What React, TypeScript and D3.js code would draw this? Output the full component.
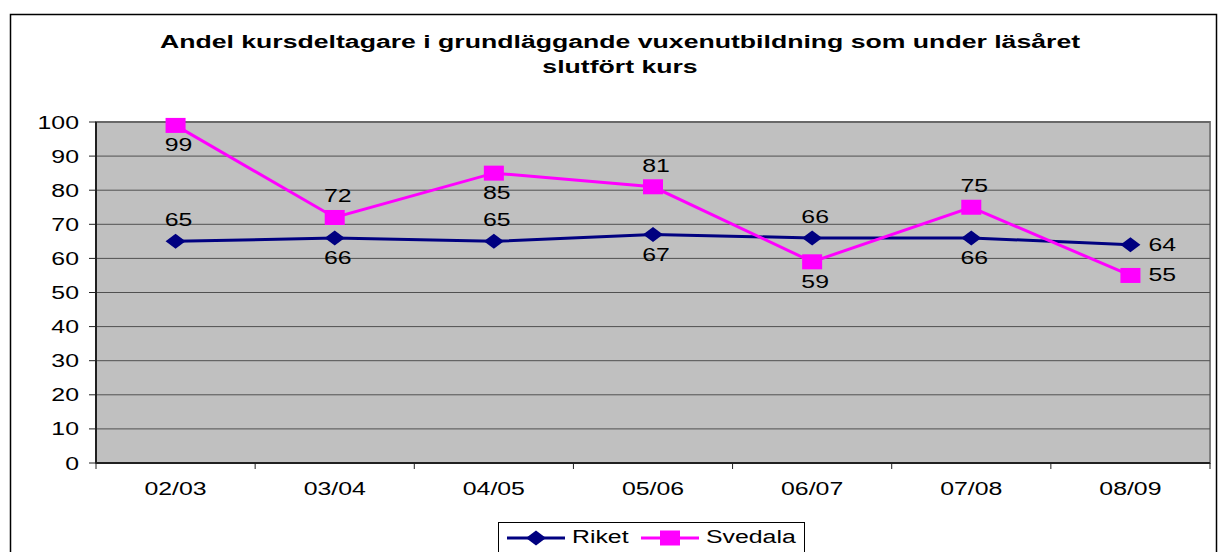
import * as d3 from 'd3';
import { useEffect, useRef } from 'react';

const years = ['02/03', '03/04', '04/05', '05/06', '06/07', '07/08', '08/09'];
const riket = [65, 66, 65, 67, 66, 66, 64];
const svedala = [99, 72, 85, 81, 59, 75, 55];
// where Excel put each data label
const riketLabelPos = ['above', 'below', 'above', 'below', 'above', 'below', 'right'];
const svedalaLabelPos = ['below', 'above', 'below', 'above', 'below', 'above', 'right'];
const yTicks = [0, 10, 20, 30, 40, 50, 60, 70, 80, 90, 100];
const titleLines = ['Andel kursdeltagare i grundläggande vuxenutbildning som under läsåret', 'slutfört kurs'];

const FONT = '"Liberation Sans", Arial, sans-serif';
const SX = 1.38; // the old chart has horizontally stretched text

const App = () => {
    const svgRef = useRef<SVGSVGElement>(null);

    useEffect(() => {
        const width = 1218;
        const height = 552;
        const plot = { left: 96, right: 1210, top: 122, bottom: 463 };

        const svg = d3.select(svgRef.current);
        svg.selectAll('*').remove();
        svg.attr('width', width).attr('height', height);

        const wideText = (g, x, y, str, anchor = 'middle', size = 18, weight = 'normal', sx = SX) =>
            g
                .append('text')
                .attr('transform', `translate(${x},${y}) scale(${sx},1)`)
                .attr('text-anchor', anchor)
                .style('font-family', FONT)
                .style('font-size', `${size}px`)
                .style('font-weight', weight)
                .attr('fill', '#000')
                .text(str);

        // outer chart border
        svg.append('rect')
            .attr('x', 10.5)
            .attr('y', 14.5)
            .attr('width', 1206)
            .attr('height', 560)
            .attr('fill', '#fff')
            .attr('stroke', '#000')
            .attr('stroke-width', 1.5);

        // title
        titleLines.forEach((line, i) => {
            wideText(svg, 620, 48 + i * 25, line, 'middle', 18, 'bold', 1.48);
        });

        const xScale = d3.scaleBand().domain(years).range([plot.left, plot.right]);
        const yScale = d3.scaleLinear().domain([0, 100]).range([plot.bottom, plot.top]);
        const cx = (d) => xScale(d) + xScale.bandwidth() / 2;

        // plot area
        svg.append('rect')
            .attr('x', plot.left)
            .attr('y', plot.top)
            .attr('width', plot.right - plot.left)
            .attr('height', plot.bottom - plot.top)
            .attr('fill', '#c0c0c0')
            .attr('stroke', '#808080')
            .attr('stroke-width', 2);

        // gridlines
        svg.append('g')
            .selectAll('line')
            .data(yTicks.filter((t) => t > 0))
            .enter()
            .append('line')
            .attr('x1', plot.left)
            .attr('x2', plot.right)
            .attr('y1', (d) => yScale(d))
            .attr('y2', (d) => yScale(d))
            .attr('stroke', '#505050')
            .attr('stroke-width', 1);

        // Y axis
        const yAxis = svg.append('g');
        yAxis.append('line')
            .attr('x1', plot.left)
            .attr('x2', plot.left)
            .attr('y1', plot.top)
            .attr('y2', plot.bottom)
            .attr('stroke', '#202020')
            .attr('stroke-width', 2);
        yTicks.forEach((t) => {
            yAxis.append('line')
                .attr('x1', plot.left - 7)
                .attr('x2', plot.left)
                .attr('y1', yScale(t))
                .attr('y2', yScale(t))
                .attr('stroke', '#202020');
            wideText(yAxis, 79, yScale(t) + 6.5, String(t), 'end');
        });

        // X axis
        const xAxis = svg.append('g');
        xAxis.append('line')
            .attr('x1', plot.left)
            .attr('x2', plot.right)
            .attr('y1', plot.bottom)
            .attr('y2', plot.bottom)
            .attr('stroke', '#202020')
            .attr('stroke-width', 2);
        [...years.map((y) => xScale(y)), plot.right].forEach((x) => {
            xAxis.append('line')
                .attr('x1', x)
                .attr('x2', x)
                .attr('y1', plot.bottom)
                .attr('y2', plot.bottom + 6)
                .attr('stroke', '#202020');
        });
        years.forEach((y) => wideText(xAxis, cx(y), 495, y));

        const line = d3
            .line<number>()
            .x((_, i) => cx(years[i]))
            .y((d) => yScale(d));

        const diamond = (g, x, y) =>
            g.append('path')
                .attr('d', `M${x - 10},${y} L${x},${y - 7.5} L${x + 10},${y} L${x},${y + 7.5} Z`)
                .attr('fill', '#000080');
        const square = (g, x, y) =>
            g.append('rect')
                .attr('x', x - 10)
                .attr('y', y - 7.5)
                .attr('width', 20)
                .attr('height', 15)
                .attr('fill', '#ff00ff');

        const series = [
            { values: riket, pos: riketLabelPos, color: '#000080', marker: diamond },
            { values: svedala, pos: svedalaLabelPos, color: '#ff00ff', marker: square },
        ];

        series.forEach((s) => {
            const g = svg.append('g');
            g.append('path')
                .attr('d', line(s.values))
                .attr('fill', 'none')
                .attr('stroke', s.color)
                .attr('stroke-width', 3);
            s.values.forEach((v, i) => {
                const x = cx(years[i]);
                const y = yScale(v);
                s.marker(g, x, y);
            });
        });

        // data labels on top
        series.forEach((s) => {
            const g = svg.append('g');
            s.values.forEach((v, i) => {
                const x = cx(years[i]);
                const y = yScale(v);
                if (s.pos[i] === 'above') wideText(g, x + 3, y - 15, String(v));
                else if (s.pos[i] === 'below') wideText(g, x + 3, y + 26, String(v));
                else wideText(g, x + 18, y + 6, String(v), 'start');
            });
        });

        // legend
        const legend = svg.append('g');
        legend.append('rect')
            .attr('x', 498.5)
            .attr('y', 522.5)
            .attr('width', 306)
            .attr('height', 40)
            .attr('fill', '#fff')
            .attr('stroke', '#000')
            .attr('stroke-width', 1);
        const items = [
            { name: 'Riket', x: 507, color: '#000080', marker: diamond },
            { name: 'Svedala', x: 641, color: '#ff00ff', marker: square },
        ];
        items.forEach((it) => {
            legend.append('line')
                .attr('x1', it.x)
                .attr('x2', it.x + 58)
                .attr('y1', 538)
                .attr('y2', 538)
                .attr('stroke', it.color)
                .attr('stroke-width', 3);
            it.marker(legend, it.x + 29, 538);
            wideText(legend, it.x + 65, 543, it.name, 'start');
        });
    }, []);

    return <svg ref={svgRef} style={{ position: 'absolute', left: 0, top: 0 }} />;
};

export default App;
